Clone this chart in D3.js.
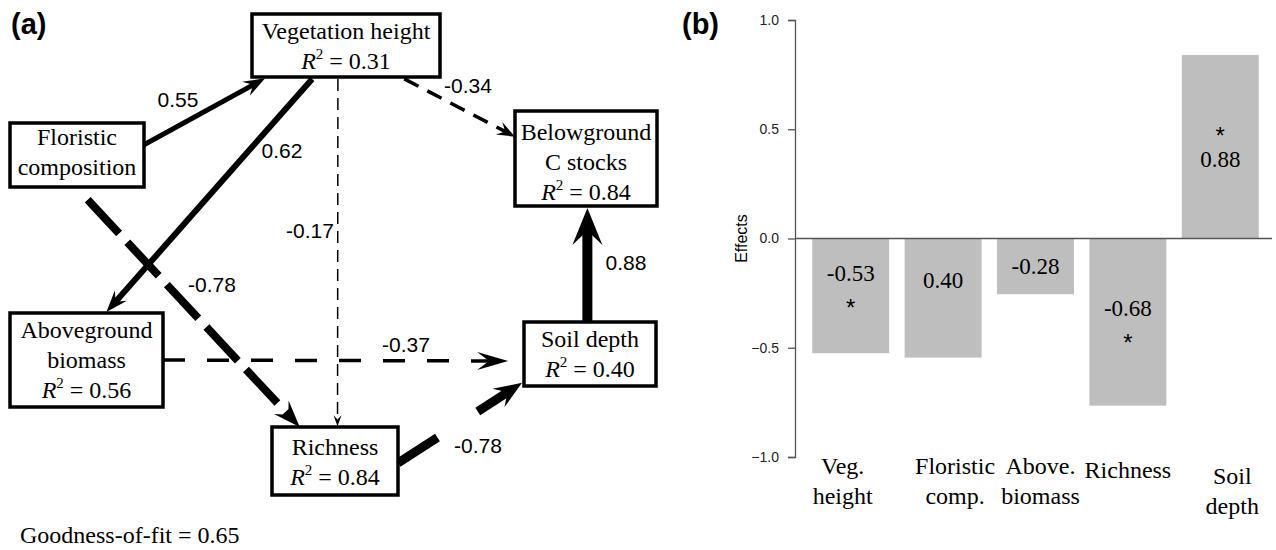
<!DOCTYPE html>
<html>
<head>
  <title>D3</title>
  <meta charset='utf-8'>
  <style>
    body { margin: 0; background: #fff; }
    svg { display: block; }
  </style>
</head>
<body>
  <div id="chart"></div>

  <script src="https://cdn.jsdelivr.net/npm/d3@7"></script>

  <script type="text/javascript">
    // ---- data: panel (a), path model ----
    var nodeIds    = ["veg", "flor", "below", "above", "soil", "rich"];
    var nodeLabels = [["Vegetation height"], ["Floristic", "composition"], ["Belowground", "C stocks"],
                      ["Aboveground", "biomass"], ["Soil depth"], ["Richness"]];
    var nodeR2     = [0.31, null, 0.84, 0.56, 0.40, 0.84];

    var pathFrom = ["flor", "veg",  "veg",  "veg",   "flor", "above", "rich", "soil"];
    var pathTo   = ["veg",  "above", "rich", "below", "rich", "soil",  "soil", "below"];
    var pathCoef = [0.55, 0.62, -0.17, -0.34, -0.78, -0.37, -0.78, 0.88];
    var goodnessOfFit = 0.65;

    // ---- data: panel (b), effects ----
    var effectCats   = [["Veg.", "height"], ["Floristic", "comp."], ["Above.", "biomass"], ["Richness"], ["Soil", "depth"]];
    var effectValues = [-0.525, -0.545, -0.255, -0.765, 0.84];
    var effectLabels = ["-0.53", "0.40", "-0.28", "-0.68", "0.88"];
    var effectSignif = [true, false, false, true, true];
    var yTicks       = [-1, -0.5, 0, 0.5, 1];

    // ---- layout (panel a) ----
    var boxes = {               // x, y, w, h
      veg:   [252, 14, 188, 63],
      flor:  [10, 123, 134, 64],
      below: [515, 111, 142, 95],
      above: [10, 313, 153, 94],
      soil:  [524, 322, 132, 64],
      rich:  [272, 427, 126, 68]
    };
    var textShift = {veg: 0, flor: -3, below: 3, above: 0, soil: 0, rich: 1};
    var lineGap = 30;
    // per edge: start anchor, end anchor (fractions of box), stroke width, dash, head [len, half width], label pos
    var edgeStyle = [
      {a: [1, 0.34],    b: [0.07, 1.02],  w: 5,   dash: null,    head: [22, 8],  lab: [178, 107]},
      {a: [0.32, 1.03], b: [0.63, -0.01], w: 6,   dash: null,    head: [22, 8],  lab: [282, 158]},
      {a: [0.457, 1.03],b: [0.52, -0.01], w: 1.5, dash: "12,7",  head: [11, 4],  lab: [310, 238]},
      {a: [0.81, 1.03], b: [0, 0.27],     w: 3.5, dash: "16,10", head: [18, 7],  lab: [468, 93]},
      {a: [0.58, 1.2],  b: [0.22, 0],     w: 8,   dash: "46,12", head: [27, 10], lab: [212, 292]},
      {a: [1, 0.5],     b: [-0.12, 0.61], w: 3.5, dash: "22,22", head: [31, 9],  lab: [406, 352]},
      {a: [1, 0.53],    b: [-0.015, 0.95],w: 9,   dash: "47,48", head: [28, 11], lab: [478, 453]},
      {a: [0.48, 0],    b: [0.51, 1.02],  w: 10,  dash: null,    head: [37, 15], lab: [626, 270]}
    ];

    var width = 1276, height = 550;
    var serif = "'Liberation Serif', 'Times New Roman', serif",
        sans  = "'Liberation Sans', Arial, sans-serif";

    var svg = d3.select("#chart").append("svg")
        .attr("width", width)
        .attr("height", height);

    // ---------- panel (a) ----------
    var pa = svg.append("g");

    function anchor(id, f) {
      var b = boxes[id];
      return [b[0] + f[0] * b[2], b[1] + f[1] * b[3]];
    }

    var edges = pathCoef.map(function(c, i) {
      return {from: pathFrom[i], to: pathTo[i], coef: c, s: edgeStyle[i]};
    });

    var eg = pa.selectAll(".edge").data(edges).enter().append("g").attr("class", "edge");

    eg.each(function(d) {
      var g = d3.select(this),
          p0 = anchor(d.from, d.s.a),
          p1 = anchor(d.to, d.s.b),
          dx = p1[0] - p0[0], dy = p1[1] - p0[1],
          len = Math.sqrt(dx * dx + dy * dy),
          ux = dx / len, uy = dy / len,
          nx = -uy, ny = ux,
          L = d.s.head[0], W = d.s.head[1];

      g.append("line")
        .attr("x1", p0[0]).attr("y1", p0[1])
        .attr("x2", p1[0] - ux * L * 0.6).attr("y2", p1[1] - uy * L * 0.6)
        .attr("stroke", "#000")
        .attr("stroke-width", d.s.w)
        .attr("stroke-dasharray", d.s.dash);

      var head = [
        p1,
        [p1[0] - ux * L + nx * W, p1[1] - uy * L + ny * W],
        [p1[0] - ux * L * 0.62, p1[1] - uy * L * 0.62],
        [p1[0] - ux * L - nx * W, p1[1] - uy * L - ny * W]
      ];
      g.append("path")
        .attr("d", d3.line()(head) + "Z")
        .attr("fill", "#000");

      g.append("text")
        .attr("x", d.s.lab[0]).attr("y", d.s.lab[1])
        .attr("text-anchor", "middle")
        .style("font-family", sans)
        .style("font-size", "21px")
        .text(d3.format(".2f")(d.coef).replace("\u2212", "-"));
    });

    var nodes = nodeIds.map(function(id, i) {
      return {id: id, lines: nodeLabels[i], r2: nodeR2[i], b: boxes[id]};
    });

    var ng = pa.selectAll(".node").data(nodes).enter().append("g").attr("class", "node");

    ng.append("rect")
      .attr("x", function(d) { return d.b[0]; })
      .attr("y", function(d) { return d.b[1]; })
      .attr("width", function(d) { return d.b[2]; })
      .attr("height", function(d) { return d.b[3]; })
      .attr("fill", "#fff")
      .attr("stroke", "#000")
      .attr("stroke-width", 3.5);

    ng.each(function(d) {
      var g = d3.select(this),
          n = d.lines.length + (d.r2 != null ? 1 : 0),
          cx = d.b[0] + d.b[2] / 2,
          y0 = d.b[1] + d.b[3] / 2 - (n - 1) * lineGap / 2 + 8 + textShift[d.id];
      d.lines.forEach(function(s, k) {
        g.append("text")
          .attr("x", cx).attr("y", y0 + k * lineGap)
          .attr("text-anchor", "middle")
          .style("font-family", serif).style("font-size", "24px")
          .text(s);
      });
      if (d.r2 != null) {
        var t = g.append("text")
          .attr("x", cx).attr("y", y0 + d.lines.length * lineGap)
          .attr("text-anchor", "middle")
          .style("font-family", serif).style("font-size", "24px");
        t.append("tspan").style("font-style", "italic").text("R");
        t.append("tspan").attr("dy", -10).style("font-size", "15px").text("2");
        t.append("tspan").attr("dy", 10).text(" = " + d3.format(".2f")(d.r2));
      }
    });

    pa.append("text")
      .attr("x", 20).attr("y", 543)
      .style("font-family", serif).style("font-size", "24px")
      .text("Goodness-of-fit = " + d3.format(".2f")(goodnessOfFit));

    pa.append("text")
      .attr("x", 11).attr("y", 34)
      .style("font-family", sans).style("font-size", "29px").style("font-weight", "bold")
      .text("(a)");

    // ---------- panel (b) ----------
    var pb = svg.append("g");

    var x = d3.scaleBand()
        .domain(d3.range(effectValues.length))
        .range([803, 1268])
        .paddingInner(0.167)
        .paddingOuter(0.1);

    var y = d3.scaleLinear()
        .domain([-1, 1])
        .range([457, 20]);

    pb.selectAll(".bar")
      .data(effectValues)
      .enter().append("rect")
      .attr("class", "bar")
      .attr("x", function(d, i) { return x(i); })
      .attr("width", x.bandwidth())
      .attr("y", function(d) { return y(Math.max(0, d)); })
      .attr("height", function(d) { return Math.abs(y(d) - y(0)); })
      .attr("fill", "#bebebe");

    pb.append("line")
      .attr("x1", 795).attr("x2", 1272)
      .attr("y1", y(0)).attr("y2", y(0))
      .attr("stroke", "#555")
      .attr("stroke-width", 1.5);

    var yAxis = pb.append("g")
      .attr("transform", "translate(795,0)")
      .call(d3.axisLeft(y).tickValues(yTicks).tickFormat(d3.format(".1f"))
              .tickSizeOuter(0).tickSize(7).tickPadding(9));
    yAxis.selectAll("path, line").attr("stroke", "#555").attr("stroke-width", 1.3);
    yAxis.selectAll("text")
      .attr("fill", "#222")
      .style("font-family", sans)
      .style("font-size", "14px");

    pb.append("text")
      .attr("transform", "translate(747," + y(0) + ") rotate(-90)")
      .attr("text-anchor", "middle")
      .style("font-family", sans).style("font-size", "16px")
      .text("Effects");

    // value labels inside bars
    var labShift = [-8, -18, 0, 0, -2];
    pb.selectAll(".blab")
      .data(effectValues)
      .enter().append("g")
      .attr("class", "blab")
      .each(function(d, i) {
        var g = d3.select(this),
            cx = x(i) + x.bandwidth() / 2,
            mid = (y(d) + y(0)) / 2 + labShift[i],
            lines = !effectSignif[i] ? [effectLabels[i]] :
                    (d > 0 ? ["*", effectLabels[i]] : [effectLabels[i], "*"]);
        lines.forEach(function(s, k) {
          var yy = mid - (lines.length - 1) * 29 / 2 + k * 29;
          g.append("text")
            .attr("x", cx)
            .attr("y", yy + (s === "*" ? 14 : 8))
            .attr("text-anchor", "middle")
            .style("font-family", s === "*" ? sans : serif)
            .style("font-size", s === "*" ? "24px" : "23px")
            .text(s);
        });
      });

    // category labels
    var catShift = [[-8, 0], [12, 0], [5, 0], [0, 4], [12, 10]];
    pb.selectAll(".cat")
      .data(effectCats)
      .enter().append("text")
      .attr("class", "cat")
      .attr("text-anchor", "middle")
      .style("font-family", serif).style("font-size", "24px")
      .each(function(d, i) {
        var t = d3.select(this),
            cx = x(i) + x.bandwidth() / 2 + catShift[i][0];
        d.forEach(function(s, k) {
          t.append("tspan")
            .attr("x", cx)
            .attr("y", 474 + catShift[i][1] + k * 30)
            .text(s);
        });
      });

    pb.append("text")
      .attr("x", 682).attr("y", 34)
      .style("font-family", sans).style("font-size", "29px").style("font-weight", "bold")
      .text("(b)");
  </script>
</body>
</html>
